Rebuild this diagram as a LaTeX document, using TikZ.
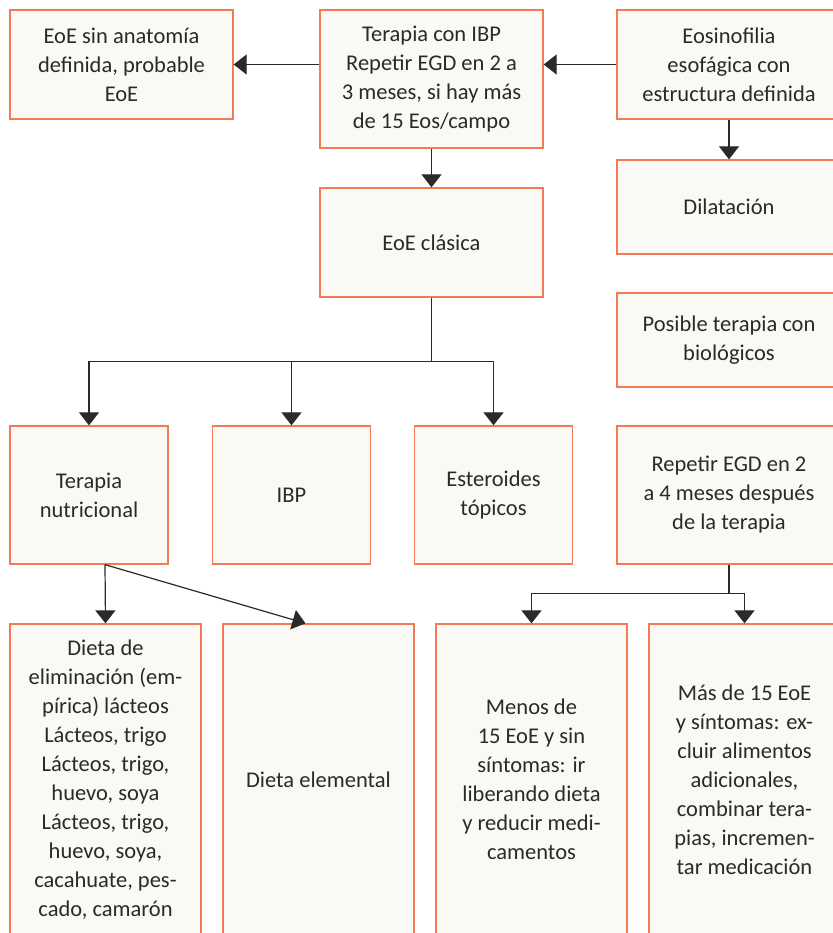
\documentclass[tikz,border=0pt]{standalone}
\usepackage{fontspec}
\setmainfont{Carlito}
\usetikzlibrary{arrows.meta}
\definecolor{borde}{HTML}{F27A54}
\definecolor{relleno}{HTML}{FAF9F5}
\definecolor{texto}{HTML}{2B2A29}
\tikzset{
  caja/.style={draw=borde, fill=relleno, line width=1.3pt, inner sep=0pt,
    align=center, text=texto, font=\fontsize{22.5}{29}\selectfont},
  flecha/.style={-{Triangle[width=20pt,length=13pt]}, line width=1.2pt, draw=texto}
}
\begin{document}
\begin{tikzpicture}[x=1pt,y=-1pt]
\useasboundingbox (0,0) rectangle (832,933);
% fila superior
\node[caja, minimum width=223pt, minimum height=109pt] (eoeprob) at (121.5,64.5) {EoE sin anatomía\\definida, probable\\EoE};
\node[caja, minimum width=223pt, minimum height=138pt] (ibp1) at (431.5,79) {Terapia con IBP\\Repetir EGD en 2 a\\3 meses, si hay más\\de 15 Eos/campo};
\node[caja, minimum width=224pt, minimum height=109pt] (eosino) at (729,64.5) {Eosinofilia\\esofágica con\\estructura definida};
\node[caja, minimum width=224pt, minimum height=94pt] (dilat) at (729,207) {Dilatación};
\node[caja, minimum width=223pt, minimum height=109pt] (clasica) at (431.5,242.5) {EoE clásica};
\node[caja, minimum width=224pt, minimum height=94pt] (biol) at (729,340) {Posible terapia con\\biológicos};
% terapias
\node[caja, minimum width=158pt, minimum height=138pt] (nutri) at (89,495) {Terapia\\nutricional};
\node[caja, minimum width=158pt, minimum height=138pt] (ibp2) at (291.5,495) {IBP};
\node[caja, minimum width=158pt, minimum height=138pt] (ester) at (493.5,495) {Esteroides\\tópicos};
\node[caja, minimum width=224pt, minimum height=138pt] (repetir) at (729,495) {Repetir EGD en 2\\a 4 meses después\\de la terapia};
% fila inferior
\node[caja, minimum width=191pt, minimum height=311pt] (elim) at (105.5,779.5) {Dieta de\\eliminación (em-\\pírica) lácteos\\Lácteos, trigo\\Lácteos, trigo,\\huevo, soya\\Lácteos, trigo,\\huevo, soya,\\cacahuate, pes-\\cado, camarón};
\node[caja, minimum width=191pt, minimum height=311pt] (elem) at (318.5,779.5) {Dieta elemental};
\node[caja, minimum width=191pt, minimum height=311pt] (menos) at (531.5,779.5) {Menos de\\15 EoE y sin\\síntomas: ir\\liberando dieta\\y reducir medi-\\camentos};
\node[caja, minimum width=191pt, minimum height=311pt] (mas) at (744.5,779.5) {Más de 15 EoE\\y síntomas: ex-\\cluir alimentos\\adicionales,\\combinar tera-\\pias, incremen-\\tar medicación};
% conectores
\draw[flecha] (eosino.west) -- (eosino.west -| ibp1.east);
\draw[flecha] (eoeprob.east -| ibp1.west) -- (eoeprob.east);
\draw[flecha] (ibp1.south) -- (clasica.north);
\draw[flecha] (eosino.south) -- (dilat.north);
\draw[flecha] (clasica.south) -- ++(0,64) -| (nutri.north);
\draw[flecha] (clasica.south) -- ++(0,64) -| (ibp2.north);
\draw[flecha] (clasica.south) -- ++(0,64) -| (ester.north);
\draw[flecha] ([xshift=16pt]nutri.south) -- (elim.north);
\draw[flecha] ([xshift=16pt]nutri.south) -- ([xshift=-13pt]elem.north);
\draw[flecha] (repetir.south) -- ++(0,29) -| (menos.north);
\draw[flecha] (repetir.south) -- ++(0,29) -| (mas.north);
\end{tikzpicture}
\end{document}
